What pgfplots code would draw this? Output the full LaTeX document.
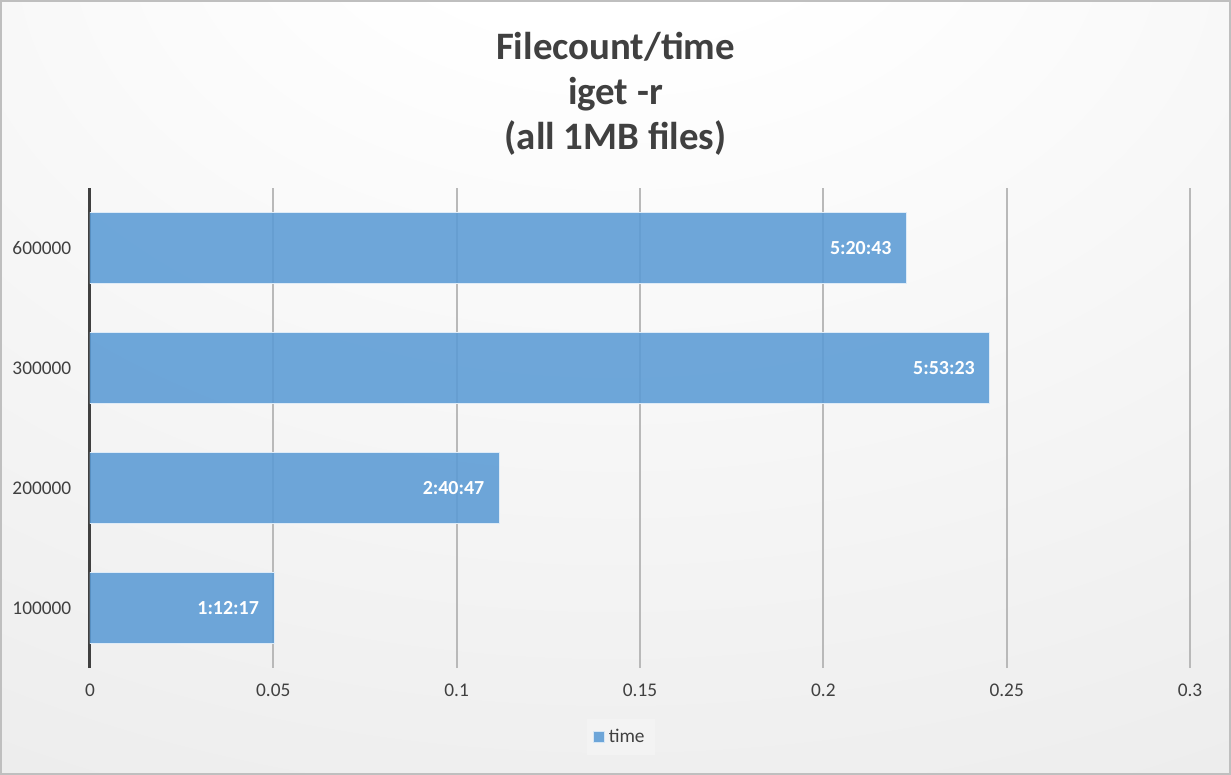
\documentclass[border=0pt]{standalone}
\usepackage{pgfplots}
\pgfplotsset{compat=1.18}
\usepackage{fontspec}
\setmainfont{Carlito}
\newfontfamily\calibri{Carlito}
\definecolor{barblue}{RGB}{91,155,213}
\definecolor{txt}{RGB}{64,64,64}
\definecolor{gridc}{RGB}{185,185,185}
\pgfdeclareradialshading{bgshade}{\pgfpoint{0bp}{37bp}}{color(0bp)=(white); color(10bp)=(white); color(100bp)=(black!16)}
\pgfplotstableread{
x y label
0.05019 0 1:12:17
0.11166 1 2:40:47
0.24541 2 5:53:23
0.22272 3 5:20:43
}\datatable
\begin{document}
\begin{tikzpicture}
\shade[shading=bgshade] (-45bp,-53.5bp) rectangle (570.5bp,334bp);
\draw[black!25, line width=1bp] (-44.5bp,-53bp) rectangle (570bp,333.5bp);
\begin{axis}[
  at={(0,0)}, anchor=south west,
  scale only axis, width=550bp, height=240bp,
  xbar, bar width=35.5bp,
  xmin=0, xmax=0.3, ymin=-0.5, ymax=3.5,
  xtick={0,0.05,0.1,0.15,0.2,0.25,0.3},
  xticklabels={0,0.05,0.1,0.15,0.2,0.25,0.3},
  ytick={0,1,2,3},
  yticklabels={100000,200000,300000,600000},
  /pgf/number format/assume math mode=true,
  xmajorgrids,
  major grid style={draw=gridc, line width=1bp},
  axis lines*=left,
  x axis line style={draw=none},
  y axis line style={draw=txt, line width=1.5bp},
  tick style={draw=none},
  tick label style={font=\fontsize{9.7}{11}\selectfont, text=txt},
  xticklabel style={yshift=-4.4bp},
  yticklabel style={xshift=-1.6bp},
  legend style={at={(0.4827,-0.14375)}, anchor=center, draw=none, fill=white, fill opacity=0.25, text opacity=1,
    font=\fontsize{9.7}{11}\selectfont, text=txt, inner xsep=3bp, inner ysep=3bp},
  legend image code/.code={\fill[barblue, draw=white!75!barblue, line width=0.5bp] (0bp,-2.6bp) rectangle (5.2bp,2.6bp);},
]
\addplot[fill=barblue, fill opacity=0.88, draw=white!80!barblue, line width=0.5bp,
  nodes near coords, point meta=explicit symbolic,
  every node near coord/.append style={anchor=east, xshift=-4bp, text=white, opacity=1, text opacity=1,
    font=\calibri\bfseries\fontsize{10}{12}\selectfont}]
  table[x=x, y=y, meta=label] {\datatable};
\addlegendentry{time}
\end{axis}
\node[anchor=base, font=\calibri\bfseries\fontsize{19.5}{22}\selectfont, text=txt, inner sep=0] at (262.75bp,304bp) {Filecount/time};
\node[anchor=base, font=\calibri\bfseries\fontsize{19.5}{22}\selectfont, text=txt, inner sep=0] at (262.75bp,281.5bp) {iget -r};
\node[anchor=base, font=\calibri\bfseries\fontsize{19.5}{22}\selectfont, text=txt, inner sep=0] at (262.75bp,259bp) {(all 1MB files)};
\pgfresetboundingbox
\path[use as bounding box] (-45bp,-53.5bp) rectangle (570.5bp,334bp);
\end{tikzpicture}
\end{document}
